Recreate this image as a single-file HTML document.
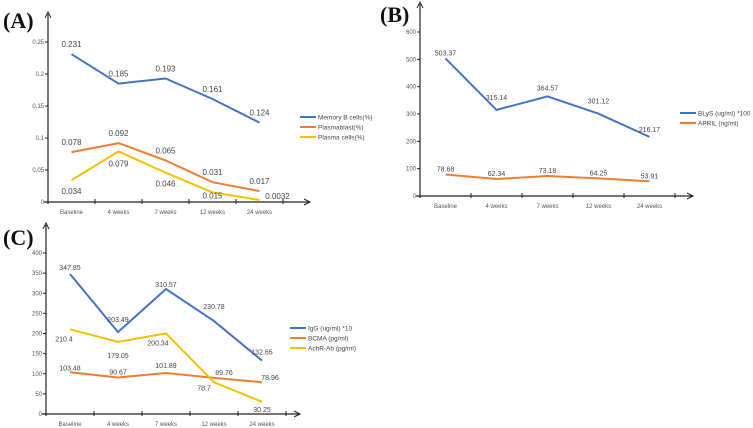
<!DOCTYPE html>
<html><head><meta charset="utf-8"><style>
body{margin:0;background:#fff;}
svg{display:block;font-family:"Liberation Sans",sans-serif;}
.t{fill:#555;font-size:6px;}
.v{fill:#444;font-size:8px;}
.vs{fill:#444;font-size:7px;}
.lg{fill:#444;font-size:6.5px;}
.pl{font-family:"Liberation Serif",serif;font-weight:bold;font-size:22px;fill:#111;}
</style></head><body>
<svg id="c" width="753" height="428"></svg>
<script>
const categories=["Baseline","4 weeks","7 weeks","12 weeks","24 weeks"];
const aTicks=[0,0.05,0.1,0.15,0.2,0.25];
const aTickLabels=["0","0.05","0.1","0.15","0.2","0.25"];
const aMemory=[0.231,0.185,0.193,0.161,0.124];
const aPlasmablast=[0.078,0.092,0.065,0.031,0.017];
const aPlasma=[0.034,0.079,0.046,0.015,0.0032];
const aMemoryLbl=["0.231","0.185","0.193","0.161","0.124"];
const aPlasmablastLbl=["0.078","0.092","0.065","0.031","0.017"];
const aPlasmaLbl=["0.034","0.079","0.046","0.015","0.0032"];
const bTicks=[0,100,200,300,400,500,600];
const bBlys=[503.37,315.14,364.57,301.12,216.17];
const bApril=[78.68,62.34,73.18,64.25,53.91];
const cTicks=[0,50,100,150,200,250,300,350,400];
const cIgG=[347.85,203.49,310.57,230.78,132.65];
const cBcma=[103.48,90.67,101.89,89.76,78.96];
const cAchr=[210.4,179.05,200.34,78.7,30.25];

const NS="http://www.w3.org/2000/svg";
const svg=document.getElementById('c');
function mk(tag,at,parent){const e=document.createElementNS(NS,tag);for(const k in at)e.setAttribute(k,at[k]);(parent||svg).appendChild(e);return e;}
function txt(x,y,s,cls,anchor,name){const e=mk('text',{x:x,y:y,class:cls,'text-anchor':anchor||'middle'});e.textContent=s;


return e;}

function panel(p){
  const g=mk('g',{});
  
  
  const ys=v=>p.y0-(v-p.min)/(p.max-p.min)*(p.y0-p.yTop);
  const xs=i=>p.x0+p.band*(i+0.5);
  const ya=mk('path',{d:`M${p.x0} ${p.y0+2}V${p.yTop-28}`,stroke:'#222','stroke-width':1.2,fill:'none'},g);
  
  
  mk('path',{d:`M${p.x0-3} ${p.yTop-24}L${p.x0} ${p.yTop-30}L${p.x0+3} ${p.yTop-24}`,stroke:'#222','stroke-width':1,fill:'none'},g);
  const xa=mk('path',{d:`M${p.x0-4} ${p.y0}H${p.xEnd}`,stroke:'#222','stroke-width':1.2,fill:'none'},g);
  
  
  mk('path',{d:`M${p.xEnd-6} ${p.y0-3}L${p.xEnd} ${p.y0}L${p.xEnd-6} ${p.y0+3}`,stroke:'#222','stroke-width':1,fill:'none'},g);
  p.ticks.forEach((t,i)=>{const y=ys(t);mk('line',{x1:p.x0-3,x2:p.x0,y1:y,y2:y,stroke:'#222'},g);
    txt(p.x0-4,y+2,p.tickLabels?p.tickLabels[i]:String(t),'t','end','y-tick-label');});
  for(let i=1;i<=categories.length;i++){const x=p.x0+p.band*i;mk('line',{x1:x,x2:x,y1:p.y0-3,y2:p.y0+2,stroke:'#222'},g);}
  categories.forEach((c,i)=>txt(xs(i),p.y0+12,c,'t','middle','x-tick-label'));
  p.series.forEach((s,si)=>{
    const d=s.vals.map((v,i)=>(i?'L':'M')+xs(i).toFixed(1)+' '+ys(v).toFixed(1)).join('');
    const l=mk('path',{d:d,stroke:s.color,'stroke-width':2,fill:'none'},g);
    
    
    s.vals.forEach((v,i)=>{const lab=s.labels?s.labels[i]:String(v);const dy=s.dy[i]||s.dy[0];const dx=s.dx?s.dx[i]:0;
      txt(xs(i)+dx,ys(v)+dy,lab,p.vcls,'middle',s.key+'-value-label');});
    const ly=p.legY+si*p.legStep;
    mk('line',{x1:p.legX,x2:p.legX+16,y1:ly,y2:ly,stroke:s.color,'stroke-width':2},g);
    txt(p.legX+18,ly+2.3,s.legend,'lg','start','legend-entry');
  });
}
const BLUE='#4472c4',OR='#ed7d31',YE='#f5c000';
panel({name:'panel-a',x0:48,y0:202,yTop:42,min:0,max:0.25,band:47,xEnd:310,ticks:aTicks,tickLabels:aTickLabels,vcls:'v',legX:300,legY:117,legStep:10,
 series:[{key:'memory-b',vals:aMemory,labels:aMemoryLbl,color:BLUE,dy:[-7],legend:'Memory B cells(%)'},
 {key:'plasmablast',vals:aPlasmablast,labels:aPlasmablastLbl,color:OR,dy:[-7],legend:'Plasmablast(%)'},
 {key:'plasma-cells',vals:aPlasma,labels:aPlasmaLbl,color:YE,dy:[14,15,14,6,-1],dx:[0,0,0,0,18],legend:'Plasma cells(%)'}]});
panel({name:'panel-b',x0:420,y0:196,yTop:32,min:0,max:600,band:51,xEnd:693,ticks:bTicks,vcls:'vs',legX:680,legY:113,legStep:10,
 series:[{key:'blys',vals:bBlys,color:BLUE,dy:[-3,-10,-6,-10,-5],legend:'BLyS (ug/ml) *100'},
 {key:'april',vals:bApril,color:OR,dy:[-3],legend:'APRIL (ng/ml)'}]});
panel({name:'panel-c',x0:46,y0:414,yTop:253,min:0,max:400,band:48,xEnd:300,ticks:cTicks,vcls:'vs',legX:290,legY:328,legStep:10,
 series:[{key:'igg',vals:cIgG,color:BLUE,dy:[-4,-10,-2,-12,-6],legend:'IgG (ug/ml) *10'},
 {key:'bcma',vals:cBcma,color:OR,dy:[-2,-3,-5,-3,-2],dx:[0,0,0,10,8],legend:'BCMA (pg/ml)'},
 {key:'achr',vals:cAchr,color:YE,dy:[12,16,12,8,10],dx:[-6,0,-8,-10,0],legend:'AchR-Ab (pg/ml)'}]});
[['(A)',3,28,'panel-a-label'],['(B)',380,22,'panel-b-label'],['(C)',3,245,'panel-c-label']].forEach(a=>txt(a[1],a[2],a[0],'pl','start',a[3]));
</script>
</body></html>
